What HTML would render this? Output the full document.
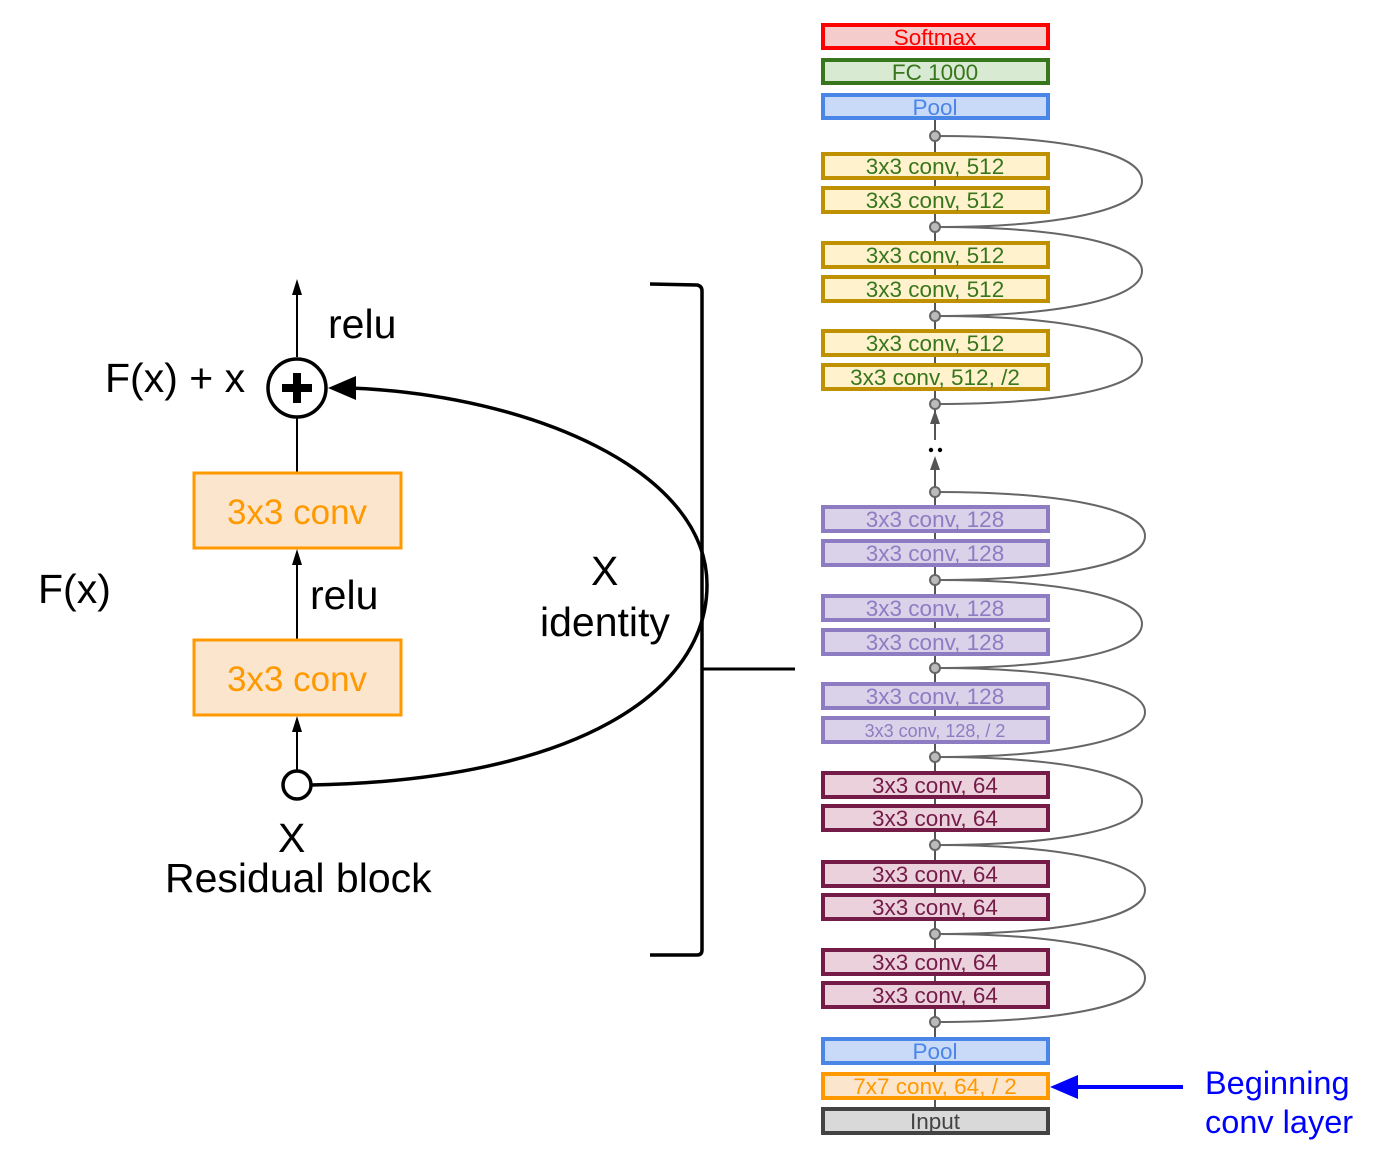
<!DOCTYPE html>
<html><head><meta charset="utf-8"><style>
html,body{margin:0;padding:0;background:#fff;}
svg{display:block;font-family:"Liberation Sans",Arial,sans-serif;}
</style></head><body>
<svg width="1374" height="1161" viewBox="0 0 1374 1161" xmlns="http://www.w3.org/2000/svg">

<!-- right column spine -->
<line x1="935" y1="118" x2="935" y2="420" stroke="#555" stroke-width="2"/>
<line x1="935" y1="475" x2="935" y2="1109" stroke="#555" stroke-width="2"/>
<line x1="935" y1="440" x2="935" y2="420" stroke="#555" stroke-width="2"/>
<path d="M935 410 L930 424 L940 424 Z" fill="#555"/>
<line x1="935" y1="490" x2="935" y2="466" stroke="#555" stroke-width="2"/>
<path d="M935 456 L930 470 L940 470 Z" fill="#555"/>
<circle cx="931" cy="450" r="2.2" fill="#000"/><circle cx="940" cy="450" r="2.2" fill="#000"/>

<!-- skip arcs -->
<g fill="none" stroke="#666" stroke-width="2">
<path d="M935 136 C1060 136 1142 152 1142 181 C1142 210 1060 227 935 227"/>
<path d="M935 227 C1060 227 1142 243 1142 271 C1142 299 1060 316 935 316"/>
<path d="M935 316 C1060 316 1142 332 1142 360 C1142 388 1060 404 935 404"/>
<path d="M935 492 C1060 492 1145 508 1145 536 C1145 564 1060 580 935 580"/>
<path d="M935 580 C1060 580 1142 596 1142 624 C1142 652 1060 668 935 668"/>
<path d="M935 668 C1060 668 1145 685 1145 712 C1145 740 1060 757 935 757"/>
<path d="M935 757 C1060 757 1142 773 1142 801 C1142 829 1060 845 935 845"/>
<path d="M935 845 C1060 845 1145 862 1145 890 C1145 918 1060 934 935 934"/>
<path d="M935 934 C1060 934 1145 950 1145 978 C1145 1006 1060 1022 935 1022"/>
</g>

<!-- boxes -->
<g stroke-width="4" font-size="22.5" text-anchor="middle">
<rect x="823" y="25" width="225" height="23" fill="#f4cccc" stroke="#ff0000"/><text x="935" y="45" fill="#ff0000">Softmax</text>
<rect x="823" y="60" width="225" height="23" fill="#d9ead3" stroke="#38761d"/><text x="935" y="80" fill="#38761d">FC 1000</text>
<rect x="823" y="95" width="225" height="23" fill="#c9daf8" stroke="#4a86e8"/><text x="935" y="115" fill="#4a86e8">Pool</text>

<g fill="#fff2cc" stroke="#bf9000">
<rect x="823" y="154" width="225" height="24"/><rect x="823" y="188" width="225" height="24"/>
<rect x="823" y="243" width="225" height="24"/><rect x="823" y="277" width="225" height="24"/>
<rect x="823" y="331" width="225" height="24"/><rect x="823" y="365" width="225" height="24"/>
</g>
<g fill="#38761d" stroke="none">
<text x="935" y="174">3x3 conv, 512</text><text x="935" y="208">3x3 conv, 512</text>
<text x="935" y="263">3x3 conv, 512</text><text x="935" y="297">3x3 conv, 512</text>
<text x="935" y="351">3x3 conv, 512</text><text x="935" y="385">3x3 conv, 512, /2</text>
</g>

<g fill="#d9d2e9" stroke="#8e7cc3">
<rect x="823" y="507" width="225" height="24"/><rect x="823" y="541" width="225" height="24"/>
<rect x="823" y="596" width="225" height="24"/><rect x="823" y="630" width="225" height="24"/>
<rect x="823" y="684" width="225" height="24"/><rect x="823" y="718" width="225" height="24"/>
</g>
<g fill="#8e7cc3" stroke="none">
<text x="935" y="527">3x3 conv, 128</text><text x="935" y="561">3x3 conv, 128</text>
<text x="935" y="616">3x3 conv, 128</text><text x="935" y="650">3x3 conv, 128</text>
<text x="935" y="704">3x3 conv, 128</text><text x="935" y="737" font-size="18">3x3 conv, 128, / 2</text>
</g>

<g fill="#ead1dc" stroke="#741b47">
<rect x="823" y="773" width="225" height="24"/><rect x="823" y="806" width="225" height="24"/>
<rect x="823" y="862" width="225" height="24"/><rect x="823" y="895" width="225" height="24"/>
<rect x="823" y="950" width="225" height="24"/><rect x="823" y="983" width="225" height="24"/>
</g>
<g fill="#741b47" stroke="none">
<text x="935" y="793">3x3 conv, 64</text><text x="935" y="826">3x3 conv, 64</text>
<text x="935" y="882">3x3 conv, 64</text><text x="935" y="915">3x3 conv, 64</text>
<text x="935" y="970">3x3 conv, 64</text><text x="935" y="1003">3x3 conv, 64</text>
</g>

<rect x="823" y="1039" width="225" height="24" fill="#c9daf8" stroke="#4a86e8"/><text x="935" y="1059" fill="#4a86e8" stroke="none">Pool</text>
<rect x="823" y="1074" width="225" height="24" fill="#fce5cd" stroke="#ff9900"/><text x="935" y="1094" fill="#ff9900" stroke="none">7x7 conv, 64, / 2</text>
<rect x="823" y="1109" width="225" height="24" fill="#d9d9d9" stroke="#434343"/><text x="935" y="1129" fill="#434343" stroke="none">Input</text>
</g>

<!-- nodes -->
<g fill="#bbb" stroke="#666" stroke-width="2">
<circle cx="935" cy="136" r="5"/><circle cx="935" cy="227" r="5"/><circle cx="935" cy="316" r="5"/><circle cx="935" cy="404" r="5"/>
<circle cx="935" cy="492" r="5"/><circle cx="935" cy="580" r="5"/><circle cx="935" cy="668" r="5"/><circle cx="935" cy="757" r="5"/>
<circle cx="935" cy="845" r="5"/><circle cx="935" cy="934" r="5"/><circle cx="935" cy="1022" r="5"/>
</g>

<!-- beginning conv arrow -->
<line x1="1183" y1="1087" x2="1070" y2="1087" stroke="#0000ff" stroke-width="4"/>
<path d="M1050 1087 L1078 1075 L1078 1099 Z" fill="#0000ff"/>
<text x="1205" y="1094" font-size="32.5" fill="#0000ff">Beginning</text>
<text x="1205" y="1133" font-size="32.5" fill="#0000ff">conv layer</text>

<!-- bracket -->
<path d="M650 284 L697 285 Q702 286 702 291 L702 950 Q702 955 697 955 L650 955" fill="none" stroke="#000" stroke-width="3.5"/>
<line x1="702" y1="669" x2="795" y2="669" stroke="#000" stroke-width="3"/>

<!-- residual block -->
<line x1="297" y1="357" x2="297" y2="292" stroke="#000" stroke-width="2"/>
<path d="M297 279 L292 295 L302 295 Z" fill="#000"/>
<line x1="297" y1="473" x2="297" y2="418" stroke="#000" stroke-width="2"/>
<line x1="297" y1="640" x2="297" y2="560" stroke="#000" stroke-width="2"/>
<path d="M297 549 L292 565 L302 565 Z" fill="#000"/>
<line x1="297" y1="771" x2="297" y2="727" stroke="#000" stroke-width="2"/>
<path d="M297 716 L292 732 L302 732 Z" fill="#000"/>
<rect x="194" y="473" width="207" height="75" fill="#fce5cd" stroke="#ff9900" stroke-width="3"/>
<rect x="194" y="640" width="207" height="75" fill="#fce5cd" stroke="#ff9900" stroke-width="3"/>
<text x="297" y="524" font-size="35" fill="#ff9900" text-anchor="middle">3x3 conv</text>
<text x="297" y="691" font-size="35" fill="#ff9900" text-anchor="middle">3x3 conv</text>
<circle cx="297" cy="388" r="29" fill="#fff" stroke="#000" stroke-width="3.5"/>
<rect x="282" y="384" width="30" height="8" fill="#000"/><rect x="293" y="373" width="8" height="30" fill="#000"/>
<circle cx="297" cy="785" r="14" fill="#fff" stroke="#000" stroke-width="3.5"/>
<path d="M311 785 C580 780 707 690 707 585 C707 470 530 395 350 388" fill="none" stroke="#000" stroke-width="3.5"/>
<path d="M328 388 L356 376 L356 400 Z" fill="#000"/>

<g font-size="41" fill="#000">
<text x="105" y="392">F(x) + x</text>
<text x="328" y="338">relu</text>
<text x="38" y="603">F(x)</text>
<text x="310" y="609">relu</text>
<text x="591" y="585">X</text>
<text x="540" y="636">identity</text>
<text x="278" y="852">X</text>
<text x="165" y="892">Residual block</text>
</g>
</svg>
</body></html>
